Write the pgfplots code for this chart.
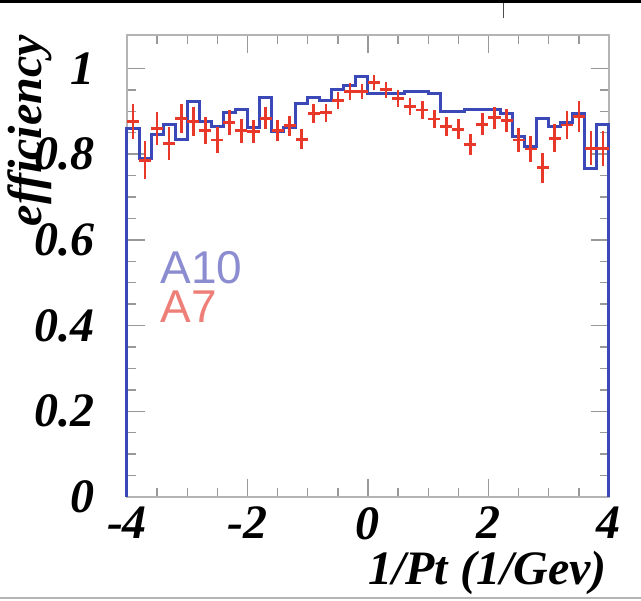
\documentclass[border=0pt]{standalone}
\usepackage{fontspec}
\setmainfont{Liberation Serif}
\newfontfamily\legfont{Liberation Sans}
\usepackage{pgfplots}
\usepackage{pgfplotstable}
\pgfplotsset{compat=1.18}
\definecolor{HistBlue}{HTML}{3A48B8}
\definecolor{HistRed}{HTML}{E8382A}
\definecolor{FrameGray}{HTML}{B4B4B4}
\definecolor{LegBlue}{HTML}{8C8CD0}
\definecolor{LegRed}{HTML}{EE7F78}

% A10: bin left edges, 0.2 wide (closed to zero at both ends)
\pgfplotstableread{
x y
-4.0 0
-4.0 0.860
-3.8 0.790
-3.6 0.845
-3.4 0.868
-3.2 0.833
-3.0 0.922
-2.8 0.876
-2.6 0.864
-2.4 0.896
-2.2 0.903
-2.0 0.861
-1.8 0.931
-1.6 0.853
-1.4 0.861
-1.2 0.919
-1.0 0.931
-0.8 0.926
-0.6 0.950
-0.4 0.961
-0.2 0.981
0.0 0.942
0.2 0.942
0.4 0.942
0.6 0.947
0.8 0.947
1.0 0.942
1.2 0.899
1.4 0.899
1.6 0.905
1.8 0.905
2.0 0.903
2.2 0.895
2.4 0.841
2.6 0.818
2.8 0.884
3.0 0.864
3.2 0.874
3.4 0.895
3.6 0.767
3.8 0.868
4.0 0.868
4.0 0
}\tabAten

% A7: bin centres, value, error
\pgfplotstableread{
x y e
-3.9 0.876 0.040
-3.7 0.786 0.045
-3.5 0.860 0.038
-3.3 0.825 0.038
-3.1 0.884 0.034
-2.9 0.876 0.033
-2.7 0.855 0.031
-2.5 0.833 0.031
-2.3 0.873 0.029
-2.1 0.855 0.028
-1.9 0.853 0.027
-1.7 0.884 0.026
-1.5 0.855 0.025
-1.3 0.866 0.024
-1.1 0.835 0.024
-0.9 0.895 0.022
-0.7 0.897 0.021
-0.5 0.926 0.020
-0.3 0.946 0.019
-0.1 0.946 0.018
0.1 0.967 0.018
0.3 0.950 0.018
0.5 0.930 0.019
0.7 0.911 0.019
0.9 0.903 0.020
1.1 0.882 0.021
1.3 0.864 0.022
1.5 0.858 0.023
1.7 0.823 0.025
1.9 0.870 0.025
2.1 0.885 0.026
2.3 0.878 0.027
2.5 0.833 0.029
2.7 0.812 0.031
2.9 0.768 0.035
3.1 0.837 0.033
3.3 0.868 0.033
3.5 0.887 0.036
3.7 0.814 0.039
3.9 0.814 0.041
}\tabAseven

\begin{document}
\begin{tikzpicture}
\path[use as bounding box] (-127pt,-104pt) rectangle (514pt,497pt);
\begin{axis}[
    at={(0,0)}, anchor=south west,
    scale only axis,
    width=482pt, height=462pt,
    xmin=-4, xmax=4,
    ymin=0, ymax=1.078,
    clip=false,
    xtick={-4,-2,0,2,4},
    xticklabels={-4,-2,0,2,4},
    minor x tick num=3,
    ytick={0,0.2,0.4,0.6,0.8,1},
    yticklabels={0,0.2,0.4,0.6,0.8,1},
    minor y tick num=3,
    tick align=inside,
    major tick length=18pt,
    minor tick length=9pt,
    tick style={FrameGray!85!black, line width=1.4pt},
    axis line style={FrameGray, line width=2.2pt},
    ticklabel style={font=\fontsize{48}{48}\selectfont\bfseries\itshape, inner sep=0pt},
    yticklabel style={anchor=east, xshift=-32pt},
    xticklabel style={anchor=north, yshift=-10pt},
    xlabel={1/Pt (1/Gev)},
    xlabel style={font=\fontsize{48}{48}\selectfont\bfseries\itshape, inner sep=0pt,
                  at={(axis description cs:1,0)}, anchor=north east, yshift=-54pt, xshift=-2pt},
    ylabel={efficiency},
    ylabel style={font=\fontsize{48}{48}\selectfont\bfseries\itshape, inner sep=0pt,
                  at={(axis description cs:-0.201,1)}, anchor=east, rotate=0},
]
\addplot[HistBlue, line width=3pt, const plot, mark=none] table[x=x, y=y] {\tabAten};
% A7: horizontal bin-width bars and vertical error bars
\addplot[HistRed, mark=none, quiver={u=0.2, v=0,
        every arrow/.append style={HistRed, line width=2.8pt, -}}]
    table[x expr=\thisrow{x}-0.1, y=y] {\tabAseven};
\addplot[HistRed, mark=none, quiver={u=0, v=2*\thisrow{e},
        every arrow/.append style={HistRed, line width=2.6pt, -}}]
    table[x=x, y expr=\thisrow{y}-\thisrow{e}] {\tabAseven};
\node[anchor=base west, LegBlue, inner sep=0pt, text depth=0pt, font=\legfont\fontsize{46}{46}\selectfont]
    at (axis cs:-3.45,0.499) {A10};
\node[anchor=base west, LegRed, inner sep=0pt, text depth=0pt, font=\legfont\fontsize{46}{46}\selectfont]
    at (axis cs:-3.45,0.406) {A7};
\end{axis}
\draw[black, line width=3pt] (-127pt,495.5pt) -- (514pt,495.5pt);
\draw[black!70, line width=1pt] (376pt,494pt) -- (376pt,479pt);
\draw[FrameGray, line width=1.5pt] (-127pt,-101pt) -- (514pt,-101pt);
\end{tikzpicture}
\end{document}
